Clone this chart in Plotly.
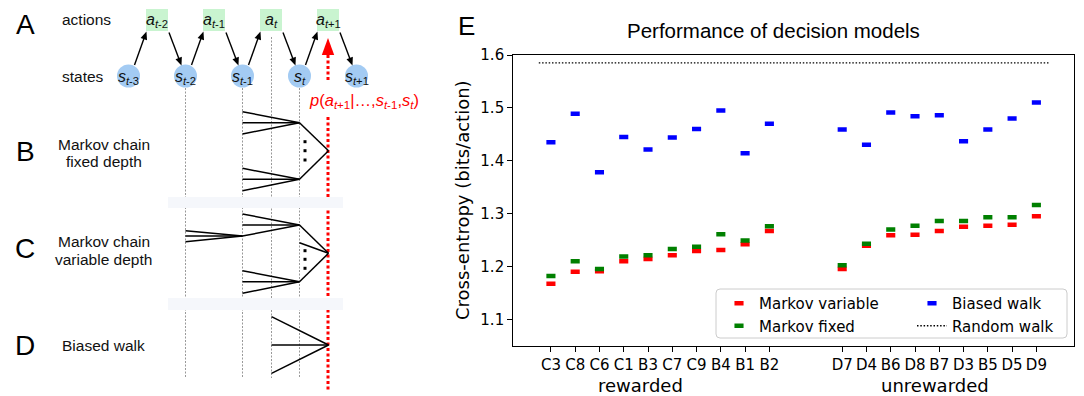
import math
import plotly.graph_objects as go

W, H = 1084, 396

# ---------------- data (panel E) ----------------
rewarded = ["C3", "C8", "C6", "C1", "B3", "C7", "C9", "B4", "B1", "B2"]
unrewarded = ["D7", "D4", "B6", "D8", "B7", "D3", "B5", "D5", "D9"]
markov_variable = [1.167, 1.190, 1.191, 1.210, 1.214, 1.221, 1.229, 1.231, 1.242, 1.267,
                   1.195, 1.239, 1.259, 1.260, 1.267, 1.275, 1.277, 1.279, 1.295]
markov_fixed = [1.182, 1.210, 1.195, 1.219, 1.221, 1.233, 1.237, 1.261, 1.249, 1.276,
                1.202, 1.243, 1.270, 1.277, 1.286, 1.286, 1.293, 1.293, 1.316]
biased_walk = [1.435, 1.489, 1.378, 1.445, 1.421, 1.444, 1.460, 1.495, 1.414, 1.470,
               1.459, 1.430, 1.491, 1.484, 1.486, 1.437, 1.459, 1.480, 1.510]
random_walk = 1.585
y_ticks = [1.1, 1.2, 1.3, 1.4, 1.5, 1.6]
group_names = ["rewarded", "unrewarded"]

labels = rewarded + unrewarded
group_gap = 2
pos = list(range(len(rewarded))) + [len(rewarded) + group_gap + i for i in range(len(unrewarded))]

# ---------------- diagram geometry (panels A-D), pixel coordinates ----------------
state_x = [128.5, 185.5, 242.5, 299.5, 356.5]
state_names = ["t-3", "t-2", "t-1", "t", "t+1"]
state_y, state_r = 76, 11.5
action_x = [157, 214, 271, 328]
action_names = ["t-2", "t-1", "t", "t+1"]
action_y, action_h = 20, 11
fan_segments = [
    # B
    ((242.5, 111.7), (299.5, 122.7)), ((242.5, 122.7), (299.5, 122.7)), ((242.5, 134), (299.5, 122.7)),
    ((242.5, 168.3), (299.5, 179.3)), ((242.5, 179.3), (299.5, 179.3)), ((242.5, 190.7), (299.5, 179.3)),
    ((299.5, 122.7), (328.5, 150.7)), ((299.5, 179.3), (328.5, 150.7)),
    # C
    ((242.5, 214), (299.5, 225)), ((242.5, 225), (299.5, 225)), ((242.5, 236), (299.5, 225)),
    ((185.5, 230.7), (242.5, 236)), ((185.5, 236), (242.5, 236)), ((185.5, 241.7), (242.5, 236)),
    ((299.5, 225), (328.5, 253.3)), ((299.5, 242.7), (328.5, 253.3)), ((299.5, 281.7), (328.5, 253.3)),
    ((242.5, 270.7), (299.5, 281.7)), ((242.5, 281.7), (299.5, 281.7)), ((242.5, 293.3), (299.5, 281.7)),
    # D
    ((271.5, 316.7), (328.5, 345)), ((271.5, 345), (328.5, 345)), ((271.5, 373.3), (328.5, 345)),
]
dots = [(305, 141.7), (305, 150.7), (305, 160), (305, 250.7), (305, 259.3), (305, 268.3)]

fig = go.Figure()

mk = dict(symbol="line-ew", size=6.5)
fig.add_trace(go.Scatter(x=pos, y=markov_variable, mode="markers", name="Markov variable",
                         marker=dict(**mk, color="#ff0000", line=dict(color="#ff0000", width=4.5)),
                         legend="legend"))
fig.add_trace(go.Scatter(x=pos, y=markov_fixed, mode="markers", name="Markov fixed",
                         marker=dict(**mk, color="#008000", line=dict(color="#008000", width=4.5)),
                         legend="legend"))
fig.add_trace(go.Scatter(x=pos, y=biased_walk, mode="markers", name="Biased walk",
                         marker=dict(**mk, color="#0000ff", line=dict(color="#0000ff", width=4.5)),
                         legend="legend2"))
fig.add_trace(go.Scatter(x=[pos[0] - 0.5, pos[-1] + 0.5], y=[random_walk, random_walk], mode="lines",
                         name="Random walk", line=dict(color="black", width=1.3, dash="1.5px,1.8px"),
                         legend="legend2"))

shapes = []
annotations = []
P = dict(xref="x2", yref="y2")


def add_arrow(tail, tip, color="black", width=1.4, L=8.0, hw=3.4):
    dx, dy = tip[0] - tail[0], tip[1] - tail[1]
    n = math.hypot(dx, dy)
    ux, uy = dx / n, dy / n
    bx, by = tip[0] - L * ux, tip[1] - L * uy
    px, py = -uy, ux
    shapes.append(dict(type="line", x0=tail[0], y0=tail[1], x1=bx + ux, y1=by + uy,
                       line=dict(color=color, width=width), **P))
    shapes.append(dict(type="path",
                       path="M %.2f,%.2f L %.2f,%.2f L %.2f,%.2f Z" % (tip[0], tip[1], bx + hw * px, by + hw * py,
                                                                       bx - hw * px, by - hw * py),
                       fillcolor=color, line=dict(width=0), **P))


# gray dotted guide lines
for x in [185.5, 242.5, 299.5]:
    shapes.append(dict(type="line", x0=x, x1=x, y0=88, y1=378, line=dict(color="#999999", width=1, dash="2px,1.5px"), **P))
shapes.append(dict(type="line", x0=271.5, x1=271.5, y0=37, y1=378, line=dict(color="#999999", width=1, dash="2px,1.5px"), **P))
# red dotted line
shapes.append(dict(type="line", x0=328, x1=328, y0=117, y1=392, line=dict(color="#ff0000", width=3, dash="3px,2.5px"), **P))
shapes.append(dict(type="line", x0=328, x1=328, y0=55, y1=80, line=dict(color="#ff0000", width=3, dash="3px,2.5px"), **P))
shapes.append(dict(type="path", path="M 321.8,55 L 334.2,55 L 328,38 Z", fillcolor="#ff0000", line=dict(width=0), **P))
# fan lines
for (a, b) in fan_segments:
    shapes.append(dict(type="line", x0=a[0], y0=a[1], x1=b[0], y1=b[1], line=dict(color="black", width=1.5), **P))
for (x, y) in dots:
    shapes.append(dict(type="rect", x0=x - 1.5, x1=x + 1.5, y0=y - 1.5, y1=y + 1.5, fillcolor="black", line=dict(width=0), **P))
# separator bands
for (y0, y1) in [(197, 208), (298, 310)]:
    shapes.append(dict(type="rect", x0=168, x1=343, y0=y0, y1=y1, fillcolor="#f5f7fb", line=dict(width=0), **P))
# states and actions
sym_font = dict(family="Liberation Sans, Arial", size=16, color="#111111")
for x, nm in zip(state_x, state_names):
    shapes.append(dict(type="circle", x0=x - state_r, x1=x + state_r, y0=state_y - state_r, y1=state_y + state_r,
                       fillcolor="#a3cbf3", line=dict(width=0), **P))
    sub = nm.replace("t", "<i>t</i>")
    annotations.append(dict(x=x, y=state_y + 1, text="<i>s</i><sub>%s</sub>" % sub, showarrow=False,
                            font=sym_font, **P))
for x, nm in zip(action_x, action_names):
    shapes.append(dict(type="rect", x0=x - action_h, x1=x + action_h, y0=action_y - action_h, y1=action_y + action_h,
                       fillcolor="#c9f4d0", line=dict(width=0), **P))
    sub = nm.replace("t", "<i>t</i>")
    annotations.append(dict(x=x, y=action_y, text="<i>a</i><sub>%s</sub>" % sub, showarrow=False,
                            font=sym_font, **P))
# arrows state -> action -> next state
for i in range(4):
    sx = state_x[i]
    add_arrow((sx + 6, 65), (sx + 18, 31.5))
    axx = action_x[i]
    add_arrow((axx + 12, 32.5), (axx + 24.5, 65.5))

# left texts
lf = dict(family="Liberation Sans, Arial", size=15.5, color="#111111")
annotations += [
    dict(x=60, y=19, text="actions", xanchor="left", showarrow=False, font=lf, **P),
    dict(x=60, y=76, text="states", xanchor="left", showarrow=False, font=lf, **P),
    dict(x=103.5, y=144, text="Markov chain", showarrow=False, font=lf, **P),
    dict(x=103.5, y=161.7, text="fixed depth", showarrow=False, font=lf, **P),
    dict(x=103.5, y=241, text="Markov chain", showarrow=False, font=lf, **P),
    dict(x=103.5, y=259.3, text="variable depth", showarrow=False, font=lf, **P),
    dict(x=103.5, y=345, text="Biased walk", showarrow=False, font=lf, **P),
    dict(x=307, y=101, xanchor="left",
         text="<i>p</i>(<i>a</i><sub><i>t</i>+1</sub>|…,<i>s</i><sub><i>t</i>-1</sub>,<i>s</i><sub><i>t</i></sub>)",
         showarrow=False, font=dict(family="Liberation Sans, Arial", size=16.5, color="#ff0000"), **P),
]
pf = dict(family="Liberation Sans, Arial", size=28, color="black")
for lab, y in [("A", 24), ("B", 151), ("C", 248), ("D", 345)]:
    annotations.append(dict(x=25, y=y, text=lab, showarrow=False, font=pf, **P))
annotations.append(dict(x=466.5, y=26, text="E", showarrow=False, font=dict(family="Liberation Sans, Arial", size=26, color="black"), **P))

# panel E texts
annotations.append(dict(x=773, y=30, text="Performance of decision models", showarrow=False,
                        font=dict(family="Liberation Sans, Arial", size=20.5, color="black"), **P))
annotations.append(dict(x=462, y=200, text="Cross-entropy (bits/action)", textangle=-90, showarrow=False,
                        font=dict(family="DejaVu Sans", size=18, color="black"), **P))
for nm, x in zip(group_names, [640.5, 935]):
    annotations.append(dict(x=x, y=385, text=nm, showarrow=False,
                            font=dict(family="DejaVu Sans", size=18, color="black"), **P))

# legend box
lx0, lx1, ly0, ly1, r = 716, 1067, 289, 338, 4
shapes.append(dict(type="path",
                   path=f"M {lx0+r},{ly0} L {lx1-r},{ly0} Q {lx1},{ly0} {lx1},{ly0+r} L {lx1},{ly1-r} Q {lx1},{ly1} {lx1-r},{ly1} "
                        f"L {lx0+r},{ly1} Q {lx0},{ly1} {lx0},{ly1-r} L {lx0},{ly0+r} Q {lx0},{ly0} {lx0+r},{ly0} Z",
                   fillcolor="rgba(255,255,255,0.8)", line=dict(color="#cccccc", width=1), **P))

axis_common = dict(showline=True, mirror=True, linecolor="black", linewidth=1.2, ticks="outside",
                   ticklen=5, tickwidth=1, tickcolor="black", showgrid=False, zeroline=False,
                   automargin=False,
                   tickfont=dict(family="DejaVu Sans", size=15, color="black"))

leg_font = dict(family="DejaVu Sans", size=15, color="black")
fig.update_layout(
    width=W, height=H,
    margin=dict(l=0, r=0, t=0, b=0, pad=0, autoexpand=False),
    paper_bgcolor="white", plot_bgcolor="rgba(0,0,0,0)",
    showlegend=True,
    xaxis=dict(domain=[513.3 / W, 1074 / W], range=[pos[0] - 1.55, pos[-1] + 1.55],
               tickvals=pos, ticktext=labels, anchor="y", **axis_common),
    yaxis=dict(domain=[1 - 345.7 / H, 1 - 55 / H], range=[1.05, 1.6],
               tickvals=y_ticks, ticktext=["%.1f" % v for v in y_ticks], anchor="x", **axis_common),
    xaxis2=dict(domain=[0, 1], range=[0, W], visible=False, anchor="y2", fixedrange=True, automargin=False),
    yaxis2=dict(domain=[0, 1], range=[H, 0], visible=False, anchor="x2", fixedrange=True, automargin=False),
    legend=dict(x=719 / W, y=1 - 287 / H, xanchor="left", yanchor="top", bgcolor="rgba(0,0,0,0)",
                borderwidth=0, font=leg_font, tracegroupgap=0),
    legend2=dict(x=912 / W, y=1 - 287 / H, xanchor="left", yanchor="top", bgcolor="rgba(0,0,0,0)",
                 borderwidth=0, font=leg_font, tracegroupgap=0),
    shapes=shapes,
    annotations=annotations,
)

fig.write_html("out.html")
